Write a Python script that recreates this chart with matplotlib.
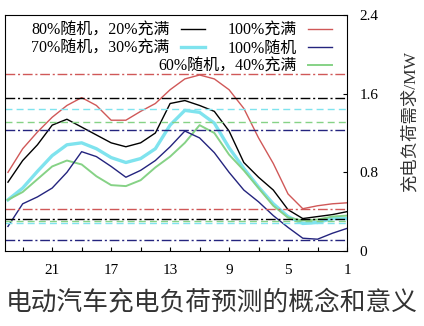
import numpy as np
import matplotlib
matplotlib.use('Agg')
import matplotlib.pyplot as plt

plt.rcParams['font.family'] = ['Liberation Serif', 'Noto Sans CJK SC']

# 时刻 (h)
hours = np.arange(1, 25)
# 各充电模式下的负荷 (MW)
full_100 = [0.49, 0.48, 0.46, 0.43, 0.58, 0.89, 1.15, 1.45, 1.64, 1.75, 1.79, 1.75,
            1.64, 1.50, 1.42, 1.33, 1.33, 1.48, 1.56, 1.48, 1.36, 1.21, 1.04, 0.80]
rand_80 = [0.40, 0.37, 0.35, 0.33, 0.42, 0.62, 0.75, 0.90, 1.22, 1.42, 1.48, 1.53,
           1.50, 1.20, 1.10, 1.06, 1.10, 1.18, 1.26, 1.34, 1.28, 1.08, 0.92, 0.70]
rand_70 = [0.33, 0.33, 0.29, 0.28, 0.35, 0.48, 0.65, 0.84, 1.05, 1.30, 1.41, 1.43,
           1.28, 1.04, 0.94, 0.90, 0.95, 1.04, 1.10, 1.08, 0.97, 0.81, 0.64, 0.52]
rand_60 = [0.36, 0.35, 0.32, 0.31, 0.34, 0.46, 0.64, 0.82, 0.98, 1.20, 1.28, 1.10,
           0.96, 0.85, 0.72, 0.66, 0.67, 0.76, 0.88, 0.92, 0.86, 0.73, 0.60, 0.52]
rand_100 = [0.23, 0.18, 0.12, 0.13, 0.24, 0.36, 0.50, 0.62, 0.80, 1.00, 1.15, 1.22,
            1.06, 0.92, 0.82, 0.75, 0.86, 0.96, 1.01, 0.80, 0.64, 0.55, 0.48, 0.25]

labels = ['100%充满', '80%随机，20%充满', '70%随机，30%充满', '60%随机，40%充满', '100%随机']
colors = ['#d05858', '#000000', '#7fe3ee', '#86d286', '#24247e']
widths = [1.0, 1.0, 2.4, 1.4, 1.0]
series = [full_100, rand_80, rand_70, rand_60, rand_100]

# 峰谷参考线
peaks = [1.80, 1.56, 1.44, 1.31, 1.23]
valleys = [0.425, 0.33, 0.28, 0.31, 0.11]
ref_styles = [(0, (7, 2, 1.5, 2)), (0, (7, 2, 1.5, 2)), (0, (5, 3)), (0, (5, 3)), (0, (7, 2, 1.5, 2))]

fig = plt.figure(figsize=(4.24, 3.26), dpi=100)
ax = fig.add_axes([5 / 424, 1 - 251 / 326, 342 / 424, 236 / 326])

lines = []
for y, c, lw, lab in zip(series, colors, widths, labels):
    l, = ax.plot(hours, y, color=c, lw=lw, label=lab)
    lines.append(l)

for p, v, c, ls in zip(peaks, valleys, colors, ref_styles):
    ax.axhline(p, color=c, ls=ls, lw=1.0)
    ax.axhline(v, color=c, ls=ls, lw=1.0)

ax.set_xlim(24.2, 1)
ax.set_ylim(0, 2.4)
ax.set_xticks(np.arange(1, 24, 2))
ax.set_xticklabels([str(h) if (h - 1) % 4 == 0 else '' for h in range(1, 24, 2)])
ax.set_yticks([0, 0.8, 1.6, 2.4])
ax.set_yticklabels(['0', '0.8', '1.6', '2.4'])
ax.yaxis.tick_right()
ax.yaxis.set_label_position('right')
ax.tick_params(direction='in', length=3, labelsize=11, pad=9)
ax.set_ylabel('充电负荷需求/MW', rotation=90, fontsize=12.5, color='#333333')
ax.yaxis.set_label_coords(1.16, 0.55)

leg_kw = dict(loc='upper right', frameon=False, markerfirst=False, fontsize=11.5,
              handlelength=1.5, labelspacing=0.1, borderpad=0, handletextpad=0.7)
leg1 = ax.legend([lines[0], lines[4], lines[3]], [labels[0], labels[4], labels[3]],
                 bbox_to_anchor=(0.98, 1.0), **leg_kw)
ax.add_artist(leg1)
ax.legend([lines[1], lines[2]], [labels[1], labels[2]],
          bbox_to_anchor=(0.608, 1.0), **leg_kw)

fig.text(0.5, 1 - 302 / 326, '电动汽车充电负荷预测的概念和意义', ha='center', va='center',
         fontsize=18.5, color='#333333', family=['Noto Sans CJK SC'])

fig.savefig('out.png', dpi=100)
